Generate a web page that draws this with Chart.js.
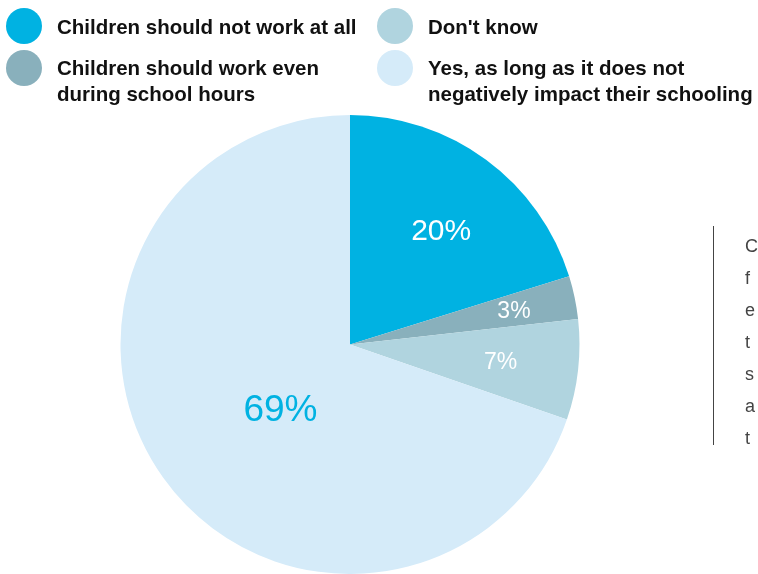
<!DOCTYPE html>
<html>
<head>
<meta charset="utf-8">
<style>
  html, body { margin: 0; padding: 0; background: #ffffff; }
  #wrap { position: relative; width: 758px; height: 574px; overflow: hidden; }
  canvas { display: block; }
</style>
<script src="https://cdn.jsdelivr.net/npm/chart.js@4.4.1/dist/chart.umd.min.js"></script>
</head>
<body>
<div id="wrap"><canvas id="chart" width="758" height="574"></canvas></div>
<script>
// Survey answers: should children work?
const categories = [
  "Children should not work at all",
  "Children should work even during school hours",
  "Don't know",
  "Yes, as long as it does not negatively impact their schooling"
];
const shares = [20, 3, 7, 69];
const sliceColors = ["#00b2e2", "#89b0bc", "#b0d4df", "#d5ebf9"];
const labelColors = ["#ffffff", "#ffffff", "#ffffff", "#00b2e2"];
const labelSizes = [30, 23, 23, 37];
const labelRadius = [0.64, 0.73, 0.66, 0.41];
const labelAngleShift = [0.035, 0, 0, -0.12];

// Legend lines, wrapped as in the layout, two columns
const legendLines = [
  ["Children should not work at all"],
  ["Children should work even", "during school hours"],
  ["Don't know"],
  ["Yes, as long as it does not", "negatively impact their schooling"]
];
// Side note, running off the right edge
const sideNote = ["C", "f", "e", "t", "s", "a", "t"];

const FONT = "'Liberation Sans', Arial, Helvetica, sans-serif";

const sliceLabels = {
  id: "sliceLabels",
  afterDatasetsDraw(chart) {
    const ctx = chart.ctx;
    const meta = chart.getDatasetMeta(0);
    ctx.save();
    ctx.textAlign = "center";
    ctx.textBaseline = "middle";
    meta.data.forEach((arc, i) => {
      const p = arc.getProps(["x", "y", "startAngle", "endAngle", "outerRadius"], true);
      const mid = (p.startAngle + p.endAngle) / 2 + labelAngleShift[i];
      const r = p.outerRadius * labelRadius[i];
      ctx.fillStyle = labelColors[i];
      ctx.font = "400 " + labelSizes[i] + "px " + FONT;
      ctx.fillText(shares[i] + "%", p.x + Math.cos(mid) * r,
                   p.y + Math.sin(mid) * r + labelSizes[i] * 0.08);
    });
    ctx.restore();
  }
};

const legendAndNote = {
  id: "legendAndNote",
  afterDraw(chart) {
    const ctx = chart.ctx;
    ctx.save();
    // legend: markers and wrapped labels
    const cols = [{ cx: 24, tx: 57 }, { cx: 395, tx: 428 }];
    const rows = [{ cy: 26, base: 34 }, { cy: 68, base: 75 }];
    legendLines.forEach((lines, i) => {
      const col = cols[Math.floor(i / 2)];
      const row = rows[i % 2];
      ctx.beginPath();
      ctx.arc(col.cx, row.cy, 18, 0, Math.PI * 2);
      ctx.fillStyle = sliceColors[i];
      ctx.fill();
      ctx.fillStyle = "#111111";
      ctx.font = "700 20.5px " + FONT;
      ctx.textAlign = "left";
      ctx.textBaseline = "alphabetic";
      lines.forEach((t, j) => ctx.fillText(t, col.tx, row.base + j * 26));
    });
    // side note with its rule
    ctx.strokeStyle = "#444444";
    ctx.lineWidth = 1;
    ctx.beginPath();
    ctx.moveTo(713.5, 226);
    ctx.lineTo(713.5, 445);
    ctx.stroke();
    ctx.fillStyle = "#444444";
    ctx.font = "300 18px " + FONT;
    sideNote.forEach((t, j) => ctx.fillText(t, 745, 252 + j * 32));
    ctx.restore();
  }
};

new Chart(document.getElementById("chart"), {
  type: "pie",
  data: {
    labels: categories,
    datasets: [{
      data: shares,
      backgroundColor: sliceColors,
      borderWidth: 0,
      hoverOffset: 0
    }]
  },
  options: {
    responsive: false,
    animation: false,
    layout: { padding: { left: 120, right: 178, top: 115, bottom: 0 } },
    plugins: {
      legend: { display: false },
      tooltip: { enabled: false },
      title: { display: false }
    }
  },
  plugins: [sliceLabels, legendAndNote]
});
</script>
</body>
</html>
